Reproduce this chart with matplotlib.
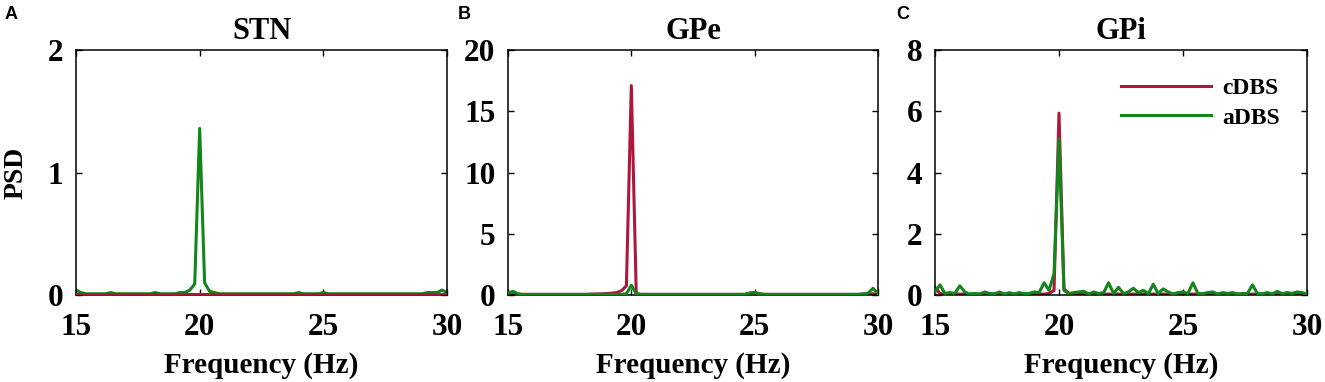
import numpy as np
import matplotlib
matplotlib.use("Agg")
import matplotlib.pyplot as plt

# Frequency grid (Hz), 0.2 Hz resolution
freq = np.round(np.arange(15.0, 30.0001, 0.2), 1)

titles = ["STN", "GPe", "GPi"]
panel_letters = ["A", "B", "C"]
series_names = ["cDBS", "aDBS"]
ylims = [2, 20, 8]
yticks = [[0, 1, 2], [0, 5, 10, 15, 20], [0, 2, 4, 6, 8]]
xticks = [15, 20, 25, 30]

stn_cdbs = [
    0.01, 0.01, 0.01, 0.01, 0.01, 0.01, 0.01, 0.01, 0.01, 0.01,
    0.01, 0.01, 0.01, 0.01, 0.01, 0.01, 0.01, 0.01, 0.01, 0.01,
    0.01, 0.01, 0.01, 0.01, 0.01, 0.01, 0.01, 0.01, 0.01, 0.01,
    0.01, 0.01, 0.01, 0.01, 0.01, 0.01, 0.01, 0.01, 0.01, 0.01,
    0.01, 0.01, 0.01, 0.01, 0.01, 0.01, 0.01, 0.01, 0.01, 0.01,
    0.01, 0.01, 0.01, 0.01, 0.01, 0.01, 0.01, 0.01, 0.01, 0.01,
    0.01, 0.01, 0.01, 0.01, 0.01, 0.01, 0.01, 0.01, 0.01, 0.01,
    0.01, 0.01, 0.01, 0.01, 0.01, 0.01,
]
stn_adbs = [
    0.04, 0.02, 0.01, 0.01, 0.01, 0.01, 0.01, 0.02, 0.01, 0.01,
    0.01, 0.01, 0.01, 0.01, 0.01, 0.01, 0.02, 0.01, 0.01, 0.01,
    0.01, 0.02, 0.02, 0.04, 0.09, 1.36, 0.10, 0.03, 0.02, 0.01,
    0.01, 0.01, 0.01, 0.01, 0.01, 0.01, 0.01, 0.01, 0.01, 0.01,
    0.01, 0.01, 0.01, 0.01, 0.01, 0.02, 0.01, 0.01, 0.01, 0.01,
    0.02, 0.01, 0.01, 0.01, 0.01, 0.01, 0.01, 0.01, 0.01, 0.01,
    0.01, 0.01, 0.01, 0.01, 0.01, 0.01, 0.01, 0.01, 0.01, 0.01,
    0.01, 0.02, 0.02, 0.02, 0.04, 0.02,
]
gpe_cdbs = [
    0.25, 0.10, 0.05, 0.05, 0.05, 0.05, 0.05, 0.05, 0.05, 0.05,
    0.05, 0.05, 0.05, 0.05, 0.05, 0.05, 0.05, 0.08, 0.08, 0.10,
    0.12, 0.15, 0.20, 0.35, 0.75, 17.1, 0.10, 0.05, 0.05, 0.05,
    0.05, 0.05, 0.05, 0.05, 0.05, 0.05, 0.05, 0.05, 0.05, 0.05,
    0.05, 0.05, 0.05, 0.05, 0.05, 0.05, 0.05, 0.05, 0.05, 0.15,
    0.20, 0.08, 0.05, 0.05, 0.05, 0.05, 0.05, 0.05, 0.05, 0.05,
    0.05, 0.05, 0.05, 0.05, 0.05, 0.05, 0.05, 0.05, 0.05, 0.05,
    0.05, 0.05, 0.05, 0.05, 0.10, 0.05,
]
gpe_adbs = [
    0.15, 0.30, 0.10, 0.05, 0.05, 0.05, 0.05, 0.05, 0.05, 0.05,
    0.05, 0.05, 0.05, 0.05, 0.05, 0.05, 0.05, 0.05, 0.05, 0.05,
    0.05, 0.05, 0.05, 0.05, 0.10, 0.80, 0.10, 0.05, 0.05, 0.05,
    0.05, 0.05, 0.05, 0.05, 0.05, 0.05, 0.05, 0.05, 0.05, 0.05,
    0.05, 0.05, 0.05, 0.05, 0.05, 0.05, 0.05, 0.05, 0.05, 0.15,
    0.20, 0.10, 0.05, 0.05, 0.05, 0.05, 0.05, 0.05, 0.05, 0.05,
    0.05, 0.05, 0.05, 0.05, 0.05, 0.05, 0.05, 0.05, 0.05, 0.05,
    0.05, 0.05, 0.10, 0.15, 0.55, 0.10,
]
gpi_cdbs = [
    0.25, 0.05, 0.03, 0.03, 0.03, 0.03, 0.03, 0.03, 0.03, 0.03,
    0.03, 0.03, 0.03, 0.03, 0.03, 0.03, 0.03, 0.03, 0.03, 0.03,
    0.03, 0.03, 0.03, 0.05, 0.15, 5.94, 0.20, 0.05, 0.03, 0.03,
    0.03, 0.03, 0.03, 0.03, 0.03, 0.03, 0.03, 0.03, 0.03, 0.03,
    0.03, 0.03, 0.03, 0.03, 0.03, 0.03, 0.03, 0.03, 0.03, 0.03,
    0.03, 0.03, 0.03, 0.03, 0.03, 0.03, 0.03, 0.03, 0.03, 0.03,
    0.03, 0.03, 0.03, 0.03, 0.03, 0.03, 0.03, 0.03, 0.03, 0.03,
    0.03, 0.03, 0.03, 0.03, 0.03, 0.03,
]
gpi_adbs = [
    0.10, 0.33, 0.05, 0.08, 0.05, 0.30, 0.10, 0.03, 0.05, 0.03,
    0.10, 0.05, 0.04, 0.10, 0.03, 0.08, 0.03, 0.08, 0.04, 0.05,
    0.10, 0.08, 0.40, 0.15, 0.70, 5.10, 0.15, 0.05, 0.08, 0.10,
    0.12, 0.03, 0.10, 0.05, 0.08, 0.40, 0.05, 0.25, 0.05, 0.10,
    0.22, 0.08, 0.15, 0.04, 0.35, 0.05, 0.20, 0.10, 0.03, 0.08,
    0.10, 0.05, 0.40, 0.05, 0.04, 0.08, 0.10, 0.03, 0.08, 0.05,
    0.08, 0.03, 0.05, 0.05, 0.33, 0.05, 0.04, 0.08, 0.03, 0.12,
    0.04, 0.08, 0.05, 0.10, 0.08, 0.03,
]

cdbs_data = [stn_cdbs, gpe_cdbs, gpi_cdbs]
adbs_data = [stn_adbs, gpe_adbs, gpi_adbs]

red = "#B0163C"
green = "#12861A"
serif = ["Liberation Serif", "DejaVu Serif"]

fig = plt.figure(figsize=(13.25, 3.82), dpi=100)
lefts = [76, 508, 935]
widths = [371, 370, 372]
W, H = 1325, 382
bottom = 1 - 295 / H
height = (295 - 50) / H

for k in range(3):
    ax = fig.add_axes([lefts[k] / W, bottom, widths[k] / W, height])
    z_red, z_green = (3, 2) if k == 0 else (2, 3)
    ax.plot(freq, cdbs_data[k], color=red, lw=2.2, label=series_names[0], zorder=z_red)
    ax.plot(freq, adbs_data[k], color=green, lw=2.2, label=series_names[1], zorder=z_green)
    ax.set_xlim(15, 30)
    ax.set_ylim(0, ylims[k])
    ax.set_xticks(xticks)
    ax.set_yticks(yticks[k])
    ax.tick_params(direction="in", top=True, right=True, length=4, width=1.0,
                   labelsize=22.5, pad=9)
    ax.tick_params(axis="x", pad=13)
    for lab in ax.get_xticklabels() + ax.get_yticklabels():
        lab.set_fontfamily(serif)
        lab.set_fontweight("bold")
    for s in ax.spines.values():
        s.set_linewidth(1.1)
    ax.set_title(titles[k], fontsize=22, fontweight="bold", family=serif, pad=8)
    ax.set_xlabel("Frequency (Hz)", fontsize=21, fontweight="bold", family=serif, labelpad=7)
    if k == 0:
        ax.set_ylabel("PSD", fontsize=20, fontweight="bold", family=serif, labelpad=14)
    if k == 2:
        ax.legend(loc="upper right", frameon=False, handlelength=3.8,
                  prop={"family": serif, "weight": "bold", "size": 17},
                  bbox_to_anchor=(0.985, 0.975), labelspacing=0.35, handletextpad=0.5)
    fig.text([5, 458, 896][k] / W, 1 - 6 / H, panel_letters[k], fontsize=13,
             fontweight="bold", family=["Liberation Sans", "DejaVu Sans"], va="top", ha="left")

fig.savefig("out.png", dpi=100)
